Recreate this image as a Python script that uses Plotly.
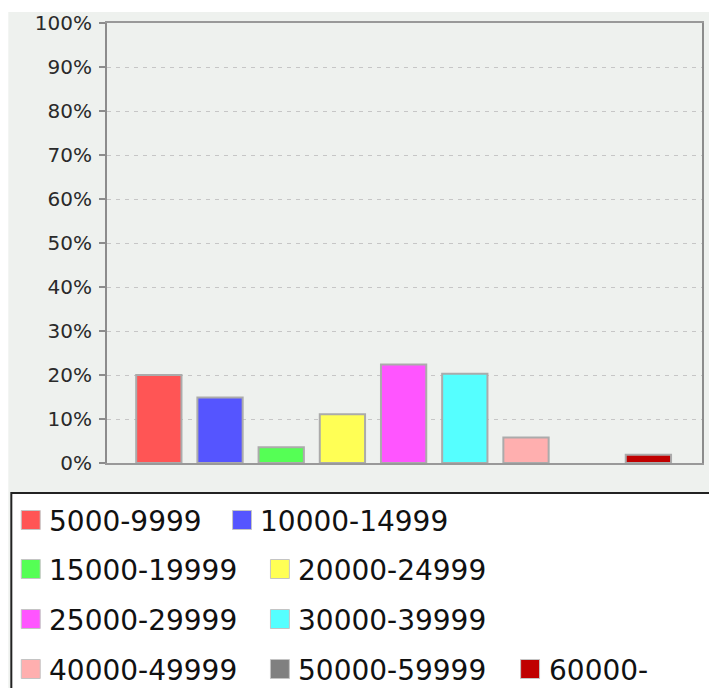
import plotly.graph_objects as go

# Income bands and share of respondents (%)
categories = ["5000-9999", "10000-14999", "15000-19999", "20000-24999",
              "25000-29999", "30000-39999", "40000-49999", "50000-59999", "60000-"]
shares = [20.0, 14.9, 3.6, 11.1, 22.4, 20.3, 5.8, 0.0, 1.9]
colors = ["#FF5555", "#5555FF", "#55FF55", "#FFFF55", "#FF55FF",
          "#55FFFF", "#FFAFAF", "#808080", "#C00000"]
y_tick_values = [0, 10, 20, 30, 40, 50, 60, 70, 80, 90, 100]
y_tick_labels = [f"{v}%" for v in y_tick_values]

W, H = 709, 688
PL, PR, PT, PB = 107, 704, 23, 463  # plot area in pixels


def px_x(px):
    return (px - PL) / (PR - PL)


def px_y(py):
    return (PB - py) / (PB - PT)


BG = "#EEF1EE"
FONT = "DejaVu Sans"

# empty bands get no outline
outline_widths = [2 if v > 0 else 0 for v in shares]

fig = go.Figure()
fig.add_trace(go.Bar(
    x=categories,
    y=shares,
    marker=dict(color=colors, line=dict(color="#ABABAB", width=outline_widths)),
    showlegend=False,
    hoverinfo="skip",
))

shapes = []
# white margins around the chart panel
shapes.append(dict(type="rect", xref="paper", yref="paper", layer="above",
                   x0=px_x(-5), x1=px_x(W + 5), y0=px_y(12), y1=px_y(-5),
                   fillcolor="white", line=dict(width=0)))
shapes.append(dict(type="rect", xref="paper", yref="paper", layer="above",
                   x0=px_x(-5), x1=px_x(8), y0=px_y(H + 5), y1=px_y(-5),
                   fillcolor="white", line=dict(width=0)))
# legend box
shapes.append(dict(type="rect", xref="paper", yref="paper", layer="above",
                   x0=px_x(11), x1=px_x(W + 10), y0=px_y(H + 10), y1=px_y(493),
                   fillcolor="white", line=dict(color="#222222", width=2)))

# legend rows: which categories go on each row and the swatch x of each entry
legend_rows = [[0, 1], [2, 3], [4, 5], [6, 7, 8]]
row_swatch_x = [[21, 233], [21, 271], [21, 271], [21, 271, 522]]
row_center_y = [520, 569, 619, 669]
SW = 19

annotations = []
for r, idxs in enumerate(legend_rows):
    cy = row_center_y[r]
    for k, i in enumerate(idxs):
        sx = row_swatch_x[r][k]
        shapes.append(dict(type="rect", xref="paper", yref="paper", layer="above",
                           x0=px_x(sx), x1=px_x(sx + SW),
                           y0=px_y(cy + SW / 2), y1=px_y(cy - SW / 2),
                           fillcolor=colors[i], line=dict(color="#C4C4C4", width=1)))
        annotations.append(dict(xref="paper", yref="paper",
                                x=px_x(sx + SW + 7), y=px_y(cy + 1),
                                xanchor="left", yanchor="middle", showarrow=False,
                                text=categories[i],
                                font=dict(family=FONT, size=28, color="#111111")))

fig.update_layout(
    width=W, height=H,
    margin=dict(l=PL, r=W - PR, t=PT, b=H - PB, pad=0),
    paper_bgcolor=BG,
    plot_bgcolor=BG,
    bargap=0.26,
    shapes=shapes,
    annotations=annotations,
    xaxis=dict(
        type="category",
        range=[-0.847, 8.876],
        showticklabels=False,
        ticks="",
        showgrid=False,
        showline=True, linecolor="#999999", linewidth=2, mirror=True,
        zeroline=False,
        fixedrange=True,
    ),
    yaxis=dict(
        range=[0, 100],
        tickvals=y_tick_values,
        ticktext=y_tick_labels,
        ticks="outside", ticklen=6, tickcolor="#8C8C8C", tickwidth=1.5,
        ticklabelstandoff=3,
        tickfont=dict(family=FONT, size=20, color="#2A2A2A"),
        showgrid=True, gridcolor="#C6C6C6", gridwidth=1, griddash="4px,5px",
        showline=True, linecolor="#8C8C8C", linewidth=2, mirror=True,
        zeroline=False,
        fixedrange=True,
    ),
)

fig.write_html("out.html")
